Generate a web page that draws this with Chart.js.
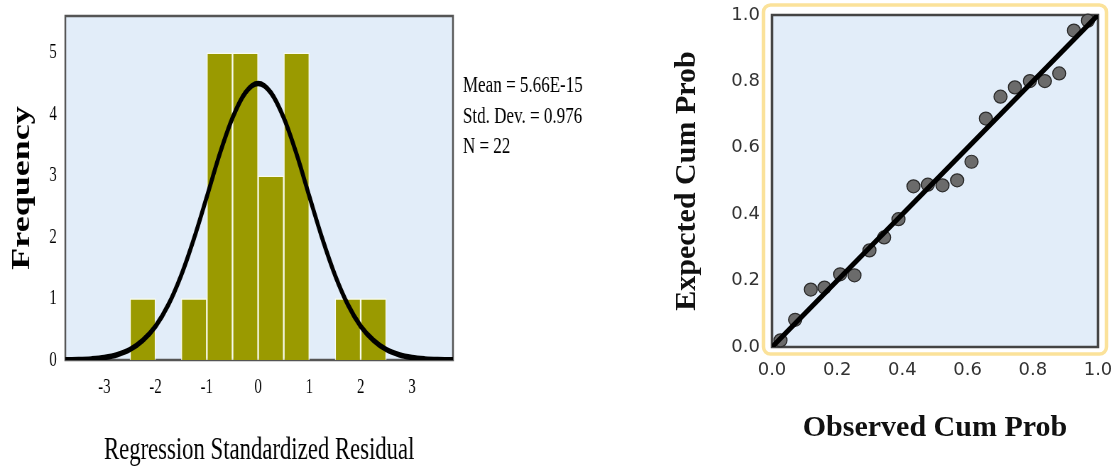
<!DOCTYPE html>
<html>
<head>
<meta charset="utf-8">
<script src="https://cdn.jsdelivr.net/npm/chart.js@4/dist/chart.umd.min.js"></script>
<style>
  body { margin: 0; background: #fff; width: 1112px; height: 472px; overflow: hidden; position: relative; }
  /* histogram panel is drawn wide, then squeezed horizontally */
  #histWrap { position: absolute; left: 0; top: 0; width: 850px; height: 472px; transform: scaleX(0.71); transform-origin: 0 0; }
  #ppWrap { position: absolute; left: 660px; top: 0; width: 452px; height: 472px; }
</style>
</head>
<body>
<div id="histWrap"><canvas id="hist" width="850" height="472"></canvas></div>
<div id="ppWrap"><canvas id="pp" width="452" height="472"></canvas></div>
<script>
// ---------- histogram data ----------
const binCenters = [-2.25, -1.75, -1.25, -0.75, -0.25, 0.25, 0.75, 1.25, 1.75, 2.25];
const binCounts = [1, 0, 1, 5, 5, 3, 5, 0, 1, 1];

// normal curve over the histogram
const curveX = [-4, -3.75, -3.5, -3.25, -3, -2.75, -2.5, -2.25, -2, -1.75, -1.5, -1.25, -1, -0.75, -0.5, -0.25,
                0, 0.25, 0.5, 0.75, 1, 1.25, 1.5, 1.75, 2, 2.25, 2.5, 2.75, 3, 3.25, 3.5, 3.75, 4];
const curveY = [0.001, 0.003, 0.007, 0.018, 0.04, 0.085, 0.17, 0.32, 0.55, 0.90, 1.38, 1.98, 2.66, 3.35, 3.94, 4.35,
                4.50, 4.35, 3.94, 3.35, 2.66, 1.98, 1.38, 0.90, 0.55, 0.32, 0.17, 0.085, 0.04, 0.018, 0.007, 0.003, 0.001];

const histXTicks = [-3, -2, -1, 0, 1, 2, 3];
const histYTicks = [0, 1, 2, 3, 4, 5];
const statsLines = ["Mean = 5.66E-15", "Std. Dev. = 0.976", "N = 22"];

// ---------- P-P plot data ----------
const observedProb = [0.026, 0.071, 0.119, 0.161, 0.209, 0.253, 0.299, 0.344, 0.388, 0.434, 0.478,
                      0.523, 0.568, 0.612, 0.656, 0.701, 0.745, 0.791, 0.837, 0.881, 0.926, 0.969];
const expectedProb = [0.020, 0.082, 0.173, 0.179, 0.219, 0.216, 0.291, 0.330, 0.385, 0.484, 0.489,
                      0.487, 0.502, 0.558, 0.688, 0.754, 0.782, 0.801, 0.801, 0.824, 0.953, 0.983];
const refLine = [0, 1];
const ppTicks = [0, 0.2, 0.4, 0.6, 0.8, 1.0];

const serif = "'Liberation Serif', 'Times New Roman', serif";
const plotBg = "#e2edf9";

// keep tick labels from pushing the plot area around
function fixAxis(size, horizontal) {
  return s => {
    if (horizontal) s.height = size; else s.width = size;
    s.paddingTop = s.paddingBottom = s.paddingLeft = s.paddingRight = 0;
  };
}

// ---------- Histogram ----------
const histFrame = {
  id: "histFrame",
  beforeDraw(chart) {
    const { ctx, chartArea: a } = chart;
    ctx.save();
    ctx.fillStyle = plotBg;
    ctx.fillRect(a.left, a.top, a.right - a.left, a.bottom - a.top);
    ctx.restore();
  },
  beforeDatasetsDraw(chart) {
    const { ctx, chartArea: a } = chart;
    ctx.save();
    ctx.strokeStyle = "#555";
    ctx.lineWidth = 2.5;
    ctx.strokeRect(a.left, a.top, a.right - a.left, a.bottom - a.top);
    ctx.restore();
  },
  afterDraw(chart) {
    const { ctx, chartArea: a } = chart;
    ctx.save();
    ctx.fillStyle = "#000";
    ctx.font = "24px " + serif;
    ctx.textBaseline = "alphabetic";
    statsLines.forEach((t, i) => ctx.fillText(t, a.right + 14, 92 + i * 30.5));
    ctx.restore();
  }
};

new Chart(document.getElementById("hist"), {
  type: "bar",
  data: {
    datasets: [
      {
        type: "line",
        data: curveX.map((x, i) => ({ x, y: curveY[i] })),
        borderColor: "#000",
        borderWidth: 5.5,
        pointRadius: 0,
        cubicInterpolationMode: "monotone",
        fill: false
      },
      {
        type: "bar",
        data: binCenters.map((x, i) => ({ x, y: binCounts[i] })),
        backgroundColor: "#9a9a00",
        borderColor: "rgba(255,255,235,0.75)",
        borderWidth: 1.5,
        barPercentage: 1,
        categoryPercentage: 1
      }
    ]
  },
  options: {
    responsive: false,
    animation: false,
    layout: { padding: { top: 16, right: 212, left: 0, bottom: 0 } },
    plugins: { legend: { display: false }, tooltip: { enabled: false } },
    scales: {
      x: {
        type: "linear",
        min: -3.76,
        max: 3.8,
        offset: false,
        grid: { display: false, drawTicks: false },
        border: { display: false },
        afterBuildTicks: s => { s.ticks = histXTicks.map(v => ({ value: v })); },
        afterFit: fixAxis(112, true),
        ticks: { padding: 15, color: "#000", maxRotation: 0, autoSkip: false, font: { family: serif, size: 21 } },
        title: {
          display: true,
          text: "Regression Standardized Residual",
          color: "#000",
          font: { family: serif, size: 32 },
          padding: { top: 0, bottom: 2 }
        }
      },
      y: {
        min: 0,
        max: 5.6,
        grid: { display: false, drawTicks: false },
        border: { display: false },
        afterBuildTicks: s => { s.ticks = histYTicks.map(v => ({ value: v })); },
        afterFit: fixAxis(92, false),
        ticks: { padding: 12, color: "#000", font: { family: serif, size: 21 } },
        title: {
          display: true,
          text: "Frequency",
          color: "#000",
          font: { family: serif, size: 36, weight: "bold" },
          padding: { top: 10, bottom: 0 }
        }
      }
    }
  },
  plugins: [histFrame]
});

// ---------- Normal P-P plot ----------
const ppFrame = {
  id: "ppFrame",
  beforeDraw(chart) {
    const { ctx, chartArea: a } = chart;
    ctx.save();
    // yellow rounded outline round the plot
    ctx.strokeStyle = "#fbe29a";
    ctx.lineWidth = 3.5;
    ctx.beginPath();
    ctx.roundRect(a.left - 8.5, a.top - 10, a.right - a.left + 17, a.bottom - a.top + 17, 7);
    ctx.stroke();
    ctx.fillStyle = plotBg;
    ctx.fillRect(a.left, a.top, a.right - a.left, a.bottom - a.top);
    ctx.restore();
  },
  beforeDatasetsDraw(chart) {
    const { ctx, chartArea: a } = chart;
    ctx.save();
    ctx.strokeStyle = "#444";
    ctx.lineWidth = 2.5;
    ctx.strokeRect(a.left, a.top, a.right - a.left, a.bottom - a.top);
    ctx.restore();
  }
};

new Chart(document.getElementById("pp"), {
  type: "scatter",
  data: {
    datasets: [
      {
        type: "line",
        data: refLine.map(v => ({ x: v, y: v })),
        borderColor: "#000",
        borderWidth: 5,
        pointRadius: 0,
        fill: false
      },
      {
        data: observedProb.map((x, i) => ({ x, y: expectedProb[i] })),
        pointRadius: 6.5,
        pointBackgroundColor: "#6b6b6b",
        pointBorderColor: "#2e2e2e",
        pointBorderWidth: 1.2,
        clip: false
      }
    ]
  },
  options: {
    responsive: false,
    animation: false,
    layout: { padding: { top: 15, right: 14, left: 0, bottom: 0 } },
    plugins: { legend: { display: false }, tooltip: { enabled: false } },
    scales: {
      x: {
        min: 0,
        max: 1,
        grid: { display: false, drawTicks: false },
        border: { display: false },
        afterBuildTicks: s => { s.ticks = ppTicks.map(v => ({ value: v })); },
        afterFit: fixAxis(125, true),
        ticks: { padding: 13, color: "#333", maxRotation: 0, autoSkip: false,
                 font: { family: "'DejaVu Sans', sans-serif", size: 18 },
                 callback: v => v.toFixed(1) },
        title: {
          display: true,
          text: "Observed Cum Prob",
          color: "#111",
          font: { family: serif, size: 30, weight: "bold" },
          padding: { top: 0, bottom: 26 }
        }
      },
      y: {
        min: 0,
        max: 1,
        grid: { display: false, drawTicks: false },
        border: { display: false },
        afterBuildTicks: s => { s.ticks = ppTicks.map(v => ({ value: v })); },
        afterFit: fixAxis(112, false),
        ticks: { padding: 12, color: "#333", font: { family: "'DejaVu Sans', sans-serif", size: 18 },
                 callback: v => v.toFixed(1) },
        title: {
          display: true,
          text: "Expected Cum Prob",
          color: "#111",
          font: { family: serif, size: 30, weight: "bold" },
          padding: { top: 9, bottom: 0 }
        }
      }
    }
  },
  plugins: [ppFrame]
});
</script>
</body>
</html>
